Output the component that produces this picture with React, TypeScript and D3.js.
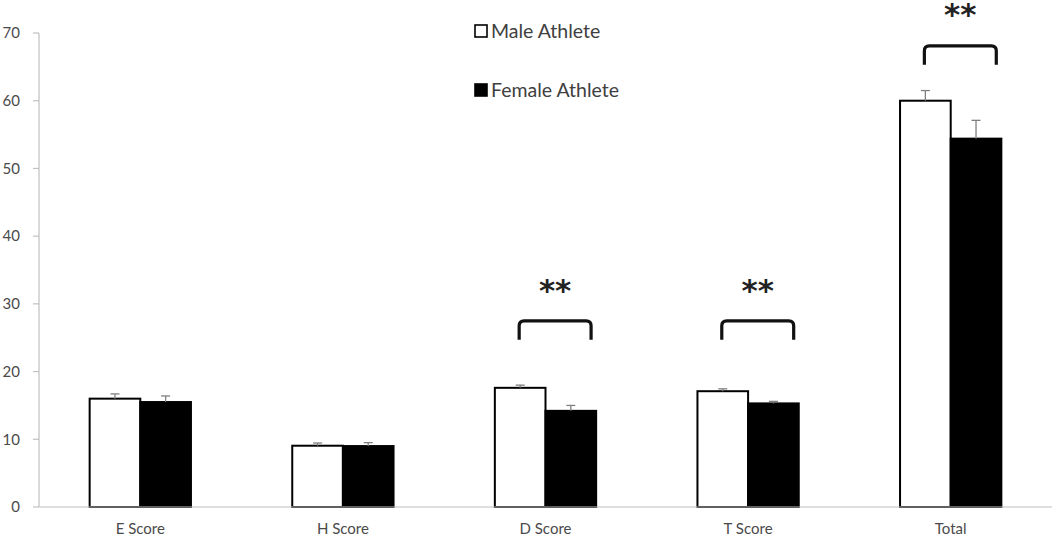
import * as d3 from 'd3';

// Mean scores with SD error bars, male vs female athletes.
const categories = ['E Score', 'H Score', 'D Score', 'T Score', 'Total'];
const series = ['Male Athlete', 'Female Athlete'];
const maleValues = [16.0, 9.05, 17.6, 17.1, 60.0];
const femaleValues = [15.5, 9.0, 14.2, 15.3, 54.4];
const maleErrors = [0.7, 0.4, 0.4, 0.35, 1.5];
const femaleErrors = [0.9, 0.5, 0.8, 0.3, 2.7];
const yTicks = [0, 10, 20, 30, 40, 50, 60, 70];

// Significance markers: category, bracket level and star baseline in data units.
const sigCategories = ['D Score', 'T Score', 'Total'];
const sigBracketLevels = [27.5, 27.5, 68.1];
const sigStarLevels = [30.4, 30.4, 71.2];

const W = 1056;
const H = 538;
const FONT = 'Lato, "Open Sans", sans-serif';
const AXIS_COLOR = '#c0c0c0';
const TEXT_COLOR = '#4a4a4a';

export default function App() {
  const x = d3.scaleBand<string>()
    .domain(categories)
    .range([39, 1052])
    .paddingInner(0.5)
    .paddingOuter(0.25);
  const xi = d3.scaleBand<string>().domain(series).range([0, x.bandwidth()]);
  const y = d3.scaleLinear().domain([0, 70]).range([507, 33]);
  const bw = xi.bandwidth();

  const values = [maleValues, femaleValues];
  const errors = [maleErrors, femaleErrors];

  return (
    <div style={{ position: 'fixed', left: 0, top: 0, width: W, height: H, background: '#fff' }}>
      <svg width={W} height={H} style={{ display: 'block' }} fontFamily={FONT}>
        {/* y axis */}
        <line x1={39} x2={39} y1={y(70)} y2={y(0)} stroke={AXIS_COLOR} strokeWidth={1.2} />
        {yTicks.map((t) => (
          <g key={t}>
            <line x1={33} x2={39} y1={y(t)} y2={y(t)} stroke={AXIS_COLOR} strokeWidth={1.2} />
            <text x={20} y={y(t)} dy="0.35em" textAnchor="end" fontSize={15} fill={TEXT_COLOR}>{t}</text>
          </g>
        ))}

        {/* bars */}
        {categories.map((c, i) => (
          <g key={c} transform={`translate(${x(c)},0)`}>
            {series.map((s, si) => {
              const v = values[si][i];
              const bx = xi(s)!;
              return (
                <rect key={s}
                  x={bx} y={y(v)} width={bw} height={y(0) - y(v)}
                  fill={si === 0 ? '#fff' : '#000'}
                  stroke="#000" strokeWidth={2} />
              );
            })}
            {series.map((s, si) => {
              const v = values[si][i];
              const e = errors[si][i];
              const cx = xi(s)! + bw / 2;
              return (
                <g key={s + '-err'} stroke="#808080" strokeWidth={1.3}>
                  <line x1={cx} x2={cx} y1={y(v)} y2={y(v + e)} />
                  <line x1={cx - 4.5} x2={cx + 4.5} y1={y(v + e)} y2={y(v + e)} />
                </g>
              );
            })}
          </g>
        ))}

        {/* x axis */}
        <line x1={39} x2={1052} y1={y(0)} y2={y(0)} stroke={AXIS_COLOR} strokeWidth={1.2} />
        {categories.map((c) => (
          <text key={c} x={x(c)! + x.bandwidth() / 2} y={534} textAnchor="middle" fontSize={15} fill={TEXT_COLOR}>{c}</text>
        ))}

        {/* significance brackets */}
        {sigCategories.map((c, i) => {
          const x0 = x(c)! + xi(series[0])! + bw / 2 - 1;
          const x1 = x(c)! + xi(series[1])! + bw * 0.9;
          const yb = y(sigBracketLevels[i]);
          const drop = 19;
          const r = 5;
          const d = `M${x0},${yb + drop} L${x0},${yb + r} Q${x0},${yb} ${x0 + r},${yb} L${x1 - r},${yb} Q${x1},${yb} ${x1},${yb + r} L${x1},${yb + drop}`;
          return (
            <g key={c}>
              <path d={d} fill="none" stroke="#111" strokeWidth={3.2} />
              <text x={(x0 + x1) / 2} y={y(sigStarLevels[i])} textAnchor="middle"
                fontSize={31} fontWeight="bold" fill="#222" fontFamily="'DejaVu Sans', sans-serif">**</text>
            </g>
          );
        })}

        {/* legend */}
        <rect x={475} y={25} width={12} height={12} fill="#fff" stroke="#000" strokeWidth={1.6} />
        <text x={491} y={38} fontSize={19.5} fill="#404040">{series[0]}</text>
        <rect x={475} y={84} width={12} height={12} fill="#000" stroke="#000" strokeWidth={1.6} />
        <text x={491} y={96.5} fontSize={19.5} fill="#404040">{series[1]}</text>
      </svg>
    </div>
  );
}
